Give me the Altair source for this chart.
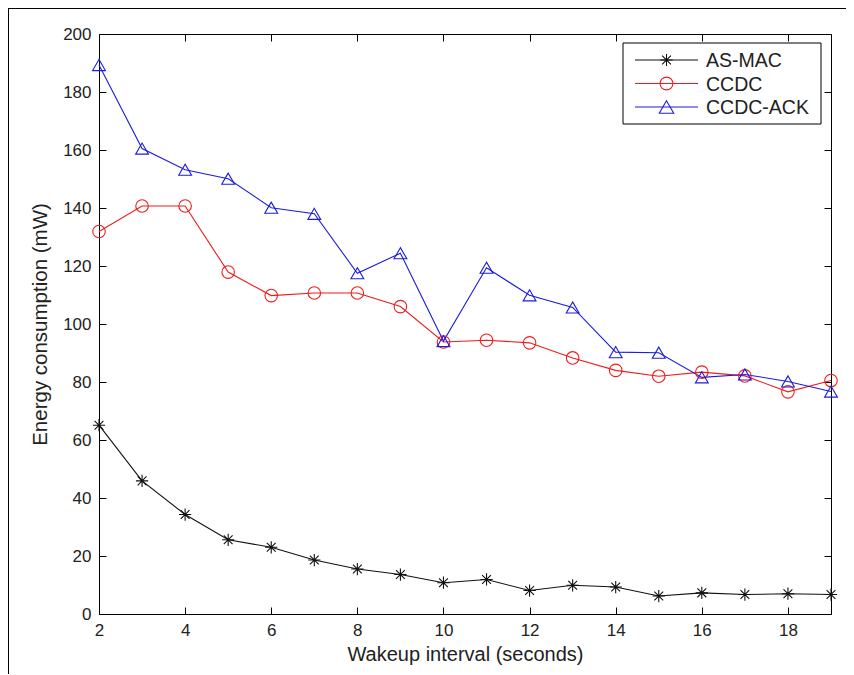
import altair as alt
import pandas as pd

wakeup = list(range(2, 20))
series_names = ["AS-MAC", "CCDC", "CCDC-ACK"]
as_mac = [65.1, 45.9, 34.3, 25.6, 23.0, 18.6, 15.5, 13.6, 10.8, 11.9, 8.1, 9.9, 9.3, 6.2, 7.3, 6.7, 7.0, 6.7]
ccdc = [131.9, 140.7, 140.7, 117.9, 109.8, 110.7, 110.7, 106.0, 93.8, 94.4, 93.5, 88.3, 84.0, 82.0, 83.4, 82.1, 76.6, 80.5]
ccdc_ack = [189.3, 160.5, 153.2, 150.1, 140.1, 138.0, 117.5, 124.4, 94.1, 119.4, 109.9, 105.7, 90.3, 90.1, 81.6, 82.6, 80.2, 76.7]
x_ticks = list(range(2, 19, 2))
y_ticks = list(range(0, 201, 20))

colors = ["#111111", "#ee1c1c", "#1c1cdd"]
asterisk = "M0,-1L0,1M-1,0L1,0M-0.72,-0.72L0.72,0.72M-0.72,0.72L0.72,-0.72"
shapes = [asterisk, "circle", "triangle-up"]
sizes = [150, 165, 210]

rows = []
for name, vals in zip(series_names, [as_mac, ccdc, ccdc_ack]):
    for x, v in zip(wakeup, vals):
        rows.append({"x": x, "value": v, "series": name})
df = pd.DataFrame(rows)

FONT = "Liberation Sans"
TXT = "#222222"

xs = alt.Scale(domain=[2, 19], nice=False, zero=False)
ys = alt.Scale(domain=[0, 200], nice=False, zero=False)
col = alt.Scale(domain=series_names, range=colors)
shp = alt.Scale(domain=series_names, range=shapes)
szs = alt.Scale(domain=series_names, range=sizes)

x_axis = alt.Axis(values=x_ticks, orient="bottom", domain=False, grid=False, tickSize=7,
                  offset=-7, labelPadding=8, tickColor="black", labelColor=TXT,
                  labelFont=FONT, labelFontSize=17, title="Wakeup interval (seconds)",
                  titleFont=FONT, titleFontSize=20, titleFontWeight="normal", titleColor=TXT,
                  titlePadding=6, labelFlush=False)
y_axis = alt.Axis(values=y_ticks, orient="left", domain=False, grid=False, tickSize=7,
                  offset=-7, labelPadding=8, tickColor="black", labelColor=TXT,
                  labelFont=FONT, labelFontSize=17, title="Energy consumption (mW)",
                  titleFont=FONT, titleFontSize=20.5, titleFontWeight="normal", titleColor=TXT,
                  titlePadding=12, labelFlush=False)
x_axis_top = alt.Axis(values=x_ticks, orient="top", domain=False, grid=False, tickSize=7,
                      offset=-7, labels=False, title=None, tickColor="black")
y_axis_right = alt.Axis(values=y_ticks, orient="right", domain=False, grid=False, tickSize=7,
                        offset=-7, labels=False, title=None, tickColor="black")

base = alt.Chart(df)

lines = base.mark_line(strokeWidth=1.1).encode(
    x=alt.X("x:Q", scale=xs, axis=x_axis),
    y=alt.Y("value:Q", scale=ys, axis=y_axis),
    color=alt.Color("series:N", scale=col, legend=None),
    detail="series:N",
)

points = base.mark_point(filled=False, strokeWidth=1.1, opacity=1).encode(
    x=alt.X("x:Q", scale=xs, axis=x_axis_top),
    y=alt.Y("value:Q", scale=ys, axis=y_axis_right),
    color=alt.Color("series:N", scale=col, legend=None),
    shape=alt.Shape("series:N", scale=shp, legend=None),
    size=alt.Size("series:N", scale=szs, legend=None),
)

# legend box (top-right), built from the series lists
legend_layers = [
    alt.Chart(alt.Data(values=[{}])).mark_rect(fill="white", stroke="black", strokeWidth=1).encode(
        x=alt.value(524), x2=alt.value(722), y=alt.value(9), y2=alt.value(90)
    )
]
row_y = [26, 49.5, 73]
for i, name in enumerate(series_names):
    d = alt.Data(values=[{"series": name}])
    legend_layers.append(
        alt.Chart(d).mark_rule(color=colors[i], strokeWidth=1.1).encode(
            x=alt.value(536), x2=alt.value(599), y=alt.value(row_y[i])
        )
    )
    legend_layers.append(
        alt.Chart(d).mark_point(filled=False, strokeWidth=1.1, color=colors[i], shape=shapes[i],
                                size=sizes[i], opacity=1).encode(
            x=alt.value(567.5), y=alt.value(row_y[i])
        )
    )
    legend_layers.append(
        alt.Chart(d).mark_text(align="left", baseline="middle", font=FONT, fontSize=19.5,
                               color=TXT).encode(
            x=alt.value(607), y=alt.value(row_y[i] + 1), text="series:N"
        )
    )

frame = [
    alt.Chart(alt.Data(values=[{}])).mark_rule(color="black", strokeWidth=1).encode(
        x=alt.value(-90.5), y=alt.value(-26), y2=alt.value(640)
    ),
    alt.Chart(alt.Data(values=[{}])).mark_rule(color="black", strokeWidth=1).encode(
        x=alt.value(-91), x2=alt.value(760), y=alt.value(-25.5)
    ),
]

chart = alt.layer(lines, points, *legend_layers, *frame).resolve_axis(
    x="independent", y="independent"
).properties(
    width=732, height=580,
    autosize=alt.AutoSizeParams(type="none"),
    padding={"left": 91, "top": 26, "right": 15, "bottom": 60},
    background="white",
).configure_view(stroke="black", strokeWidth=1)

chart.save("out.html", embed_options={"renderer": "svg", "actions": False})
